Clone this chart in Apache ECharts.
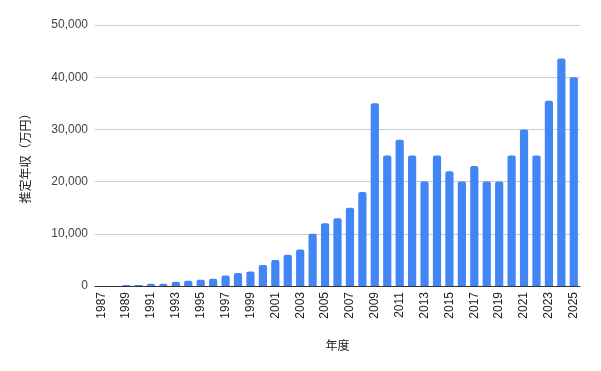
<!DOCTYPE html>
<html><head><meta charset="utf-8">
<script src="https://cdn.jsdelivr.net/npm/echarts@6/dist/echarts.min.js"></script>
<style>html,body{margin:0;padding:0;background:#fff}#c{width:601px;height:371px}</style>
</head><body><div id="c"></div>
<script>
var years = [];
for (var y = 1987; y <= 2025; y++) years.push(String(y));
var income = [0, 0, 200, 200, 450, 450, 800, 1000, 1200, 1400, 2000, 2500, 2800, 4000, 5000, 6000, 7000,
  10000, 12000, 13000, 15000, 18000, 35000, 25000, 28000, 25000, 20000, 25000, 22000, 20000, 23000,
  20000, 20000, 25000, 30000, 25000, 35500, 43600, 40000];
var yTicks = [0, 10000, 20000, 30000, 40000, 50000];
var chart = echarts.init(document.getElementById('c'));
chart.setOption({
  animation: false,
  grid: {left: 95, right: 21, top: 25, bottom: 85},
  xAxis: {
    type: 'category', data: years,
    name: '年度', nameLocation: 'middle', nameGap: 53,
    nameTextStyle: {fontFamily: 'Noto Sans CJK JP', fontSize: 12, color: '#222'},
    axisLine: {lineStyle: {color: '#333'}},
    axisTick: {show: false},
    axisLabel: {rotate: 90, interval: 1, fontFamily: 'Liberation Sans, Arial', fontSize: 12, color: '#222', margin: 6}
  },
  yAxis: {
    type: 'value', min: 0, max: 50000, interval: 10000,
    name: '推定年収（万円）', nameLocation: 'middle', nameGap: 64,
    nameTextStyle: {fontFamily: 'Noto Sans CJK JP', fontSize: 12, color: '#222'},
    axisLine: {show: false}, axisTick: {show: false},
    axisLabel: {fontFamily: 'Liberation Sans, Arial', fontSize: 12, color: '#444', margin: 7,
      formatter: function (v) { return v.toLocaleString('en-US'); }},
    splitLine: {lineStyle: {color: '#ccc'}}
  },
  series: [{
    type: 'bar', data: income, barCategoryGap: '34%',
    itemStyle: {color: '#4285f4', borderRadius: [2, 2, 0, 0]}
  }]
});
</script></body></html>
